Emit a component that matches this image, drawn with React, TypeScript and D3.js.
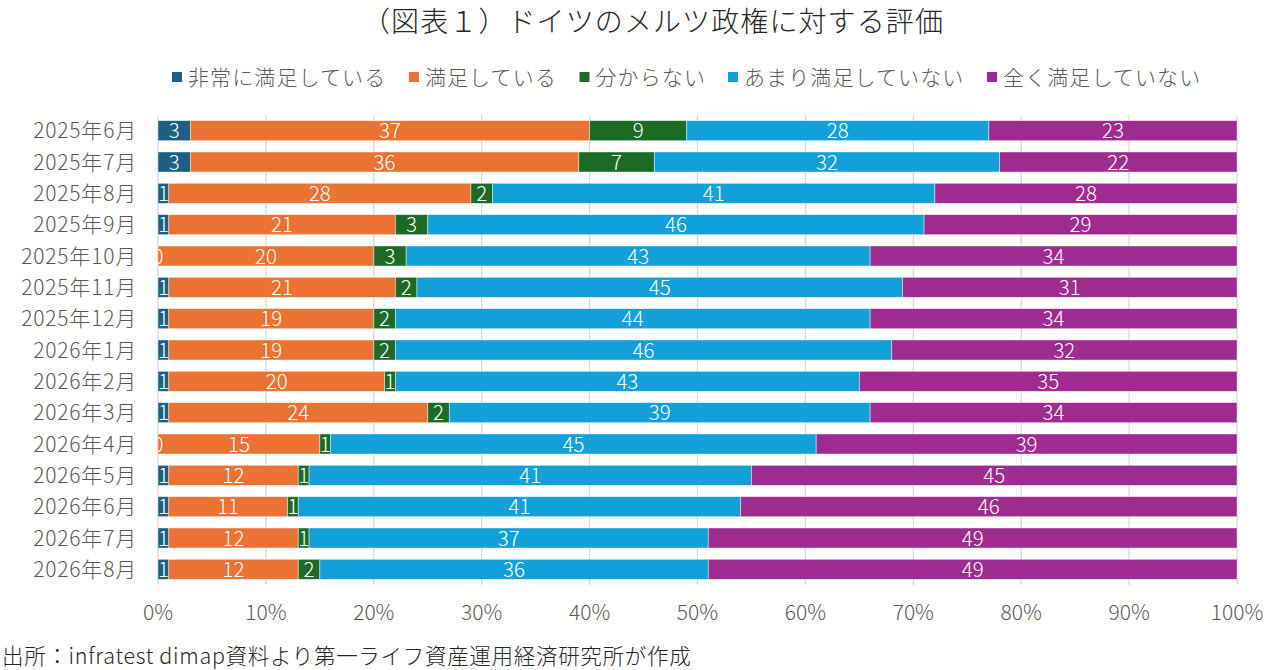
import React from 'react';
import * as d3 from 'd3';

// Chart data (percent shares per survey month)
const months = [
  '2025年6月', '2025年7月', '2025年8月', '2025年9月', '2025年10月', '2025年11月', '2025年12月',
  '2026年1月', '2026年2月', '2026年3月', '2026年4月', '2026年5月', '2026年6月', '2026年7月', '2026年8月',
];
const seriesNames = ['非常に満足している', '満足している', '分からない', 'あまり満足していない', '全く満足していない'];
const verySatisfied = [3, 3, 1, 1, 0, 1, 1, 1, 1, 1, 0, 1, 1, 1, 1];
const satisfied = [37, 36, 28, 21, 20, 21, 19, 19, 20, 24, 15, 12, 11, 12, 12];
const dontKnow = [9, 7, 2, 3, 3, 2, 2, 2, 1, 2, 1, 1, 1, 1, 2];
const notVerySatisfied = [28, 32, 41, 46, 43, 45, 44, 46, 43, 39, 45, 41, 41, 37, 36];
const notAtAllSatisfied = [23, 22, 28, 29, 34, 31, 34, 32, 35, 34, 39, 45, 46, 49, 49];
const xTicks = [0, 0.1, 0.2, 0.3, 0.4, 0.5, 0.6, 0.7, 0.8, 0.9, 1];
const colors = ['#1b5f81', '#ea7333', '#1b6b26', '#139fd7', '#9e2b8f'];

const title = '（図表１）ドイツのメルツ政権に対する評価';
const source = '出所：infratest dimap資料より第一ライフ資産運用経済研究所が作成';

const W = 1269;
const H = 670;
const FONT = '"Noto Sans CJK JP", "Noto Sans", sans-serif';
const GRAY = '#595959';
const WEIGHT = 300;

const App: React.FC = () => {
  const values = [verySatisfied, satisfied, dontKnow, notVerySatisfied, notAtAllSatisfied];
  const rows = months.map((m, i) => {
    const row: Record<string, number | string> = { month: m };
    seriesNames.forEach((s, k) => (row[s] = values[k][i]));
    return row;
  });

  const stack = d3
    .stack<Record<string, number | string>>()
    .keys(seriesNames)
    .value((d, key) => d[key] as number)
    .offset(d3.stackOffsetExpand);
  const layers = stack(rows);

  const x = d3.scaleLinear().domain([0, 1]).range([158, 1237]);
  const y = d3
    .scaleBand<string>()
    .domain(months)
    .range([115, 585])
    .paddingInner(0.36)
    .paddingOuter(0.18);

  // legend layout: full-width glyphs, so char count gives the width
  const charW = 22.1;
  const gap = 22;
  let lx = 172;
  const legend = seriesNames.map((name, k) => {
    const item = { name, x: lx, color: colors[k] };
    lx += 16 + name.length * charW + gap;
    return item;
  });

  return (
    <svg
      width={W}
      height={H}
      style={{ position: 'absolute', left: 0, top: 0, background: '#fff', fontFamily: FONT }}
    >
      <defs>
        <clipPath id="plotClip">
          <rect x={x(0)} y={100} width={x(1) - x(0)} height={500} />
        </clipPath>
      </defs>

      <text x={653} y={32} textAnchor="middle" fontSize={28} fontWeight={WEIGHT} letterSpacing={1.1} fill="#262626">
        {title}
      </text>

      {/* legend */}
      {legend.map(l => (
        <g key={l.name}>
          <rect x={l.x} y={72} width={10} height={10} fill={l.color} />
          <text x={l.x + 16} y={84.5} fontSize={21} fontWeight={WEIGHT} letterSpacing={1.1} fill={GRAY}>
            {l.name}
          </text>
        </g>
      ))}

      {/* gridlines */}
      {xTicks.map(t => (
        <line key={t} x1={x(t)} x2={x(t)} y1={115} y2={585} stroke="#d9d9d9" strokeWidth={1.3} />
      ))}

      {/* bars */}
      {layers.map((layer, k) => (
        <g key={layer.key}>
          {layer.map((d, i) => (
            <rect
              key={i}
              x={x(d[0])}
              y={y(months[i])}
              width={Math.max(0, x(d[1]) - x(d[0]))}
              height={y.bandwidth()}
              fill={colors[k]}
              stroke="rgba(255,255,255,0.55)"
              strokeWidth={0.8}
            />
          ))}
        </g>
      ))}

      {/* data labels */}
      <g clipPath="url(#plotClip)">
        {layers.map((layer, k) =>
          layer.map((d, i) => (
            <text
              key={`${k}-${i}`}
              x={x((d[0] + d[1]) / 2)}
              y={(y(months[i]) as number) + y.bandwidth() / 2 + 7.5}
              textAnchor="middle"
              fontSize={20.5}
              fontWeight={WEIGHT}
              fill="#fff"
            >
              {values[k][i]}
            </text>
          ))
        )}
      </g>

      {/* y axis labels */}
      {months.map(m => (
        <text
          key={m}
          x={137}
          y={(y(m) as number) + y.bandwidth() / 2 + 7.5}
          textAnchor="end"
          fontSize={21}
          fontWeight={WEIGHT}
          letterSpacing={0.8}
          fill={GRAY}
        >
          {m}
        </text>
      ))}

      {/* x axis labels */}
      {xTicks.map(t => (
        <text key={t} x={x(t)} y={619.5} textAnchor="middle" fontSize={21} fontWeight={WEIGHT} fill={GRAY}>
          {d3.format('.0%')(t)}
        </text>
      ))}

      <text x={2} y={664} fontSize={21.5} fontWeight={WEIGHT} letterSpacing={0.7} fill="#262626">
        {source}
      </text>
    </svg>
  );
};

export default App;
